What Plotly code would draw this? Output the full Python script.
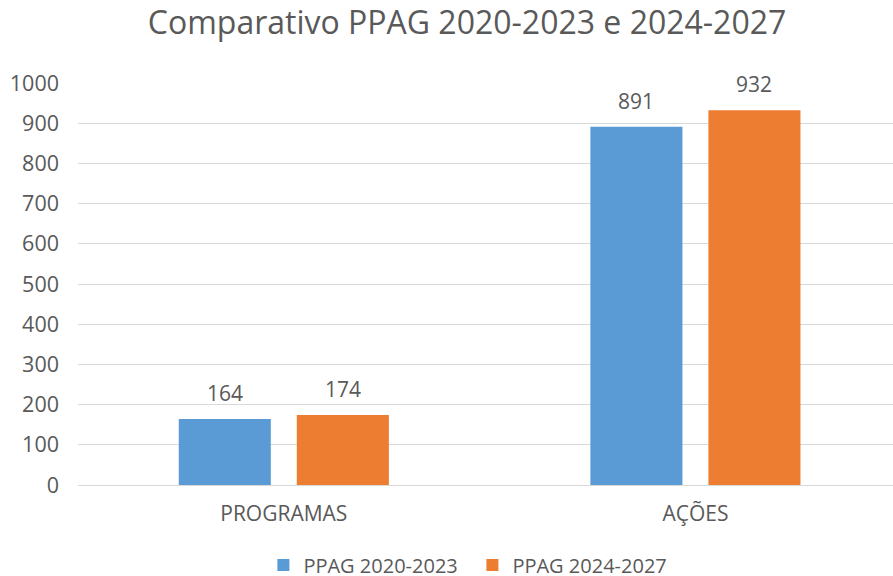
import plotly.graph_objects as go

categories = ["PROGRAMAS", "AÇÕES"]
series_names = ["PPAG 2020-2023", "PPAG 2024-2027"]
ppag_2020_2023 = [164, 891]
ppag_2024_2027 = [174, 932]
y_ticks = [0, 100, 200, 300, 400, 500, 600, 700, 800, 900, 1000]

colors = ["#5B9BD5", "#ED7D31"]
font_family = "Open Sans, Segoe UI, sans-serif"
gray = "#595959"

fig = go.Figure()
for name, vals, col in zip(series_names, [ppag_2020_2023, ppag_2024_2027], colors):
    fig.add_trace(go.Bar(x=categories, y=vals, name=name, marker=dict(color=col, line=dict(width=0))))

# data labels
for vals, shift in zip([ppag_2020_2023, ppag_2024_2027], [-59, 59]):
    for c, v in zip(categories, vals):
        fig.add_annotation(x=c, y=v, text=str(v), showarrow=False, xref="x", yref="y",
                           xshift=shift, yshift=26, yanchor="middle",
                           font=dict(family=font_family, size=21, color=gray))

fig.update_layout(
    width=893, height=576,
    margin=dict(l=78, r=0, t=82.5, b=91, autoexpand=False),
    paper_bgcolor="white", plot_bgcolor="white",
    barmode="group", bargap=0.4265, bargroupgap=0.22,
    title=dict(text="Comparativo PPAG 2020-2023 e 2024-2027", x=0.523, xanchor="center",
               y=1 - 23 / 576, yanchor="middle",
               font=dict(family=font_family, size=32, color=gray)),
    font=dict(family=font_family, size=20, color=gray),
    legend=dict(orientation="h", x=0.529, xanchor="center", xref="container",
                y=(576 - 565) / 576, yanchor="middle", yref="container",
                font=dict(family=font_family, size=20, color=gray), itemwidth=30,
                entrywidth=164, entrywidthmode="pixels",
                traceorder="normal"),
    xaxis=dict(range=[-0.5, 1.48], showgrid=False, showline=False, ticks="", automargin=False,
               tickfont=dict(family=font_family, size=21, color=gray), ticklabelstandoff=14),
    yaxis=dict(range=[0, 1000], tickvals=y_ticks, showgrid=True, gridcolor="#D9D9D9",
               gridwidth=1, zeroline=True, zerolinecolor="#D9D9D9", zerolinewidth=1,
               showline=False, ticks="", ticklabelstandoff=18, automargin=False,
               tickfont=dict(family=font_family, size=21.5, color=gray)),
)

fig.write_html("out.html", config={"displayModeBar": False},
               post_script="document.body.style.margin='0';document.body.style.overflow='hidden';")
